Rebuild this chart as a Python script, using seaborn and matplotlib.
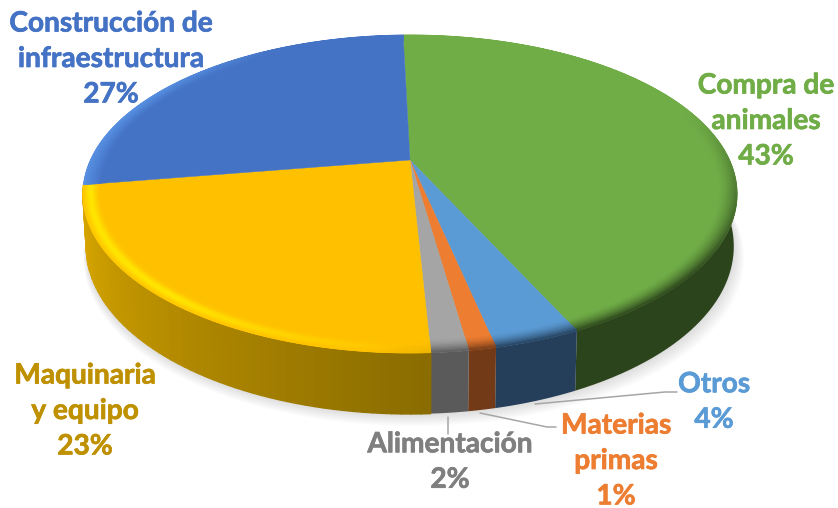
import numpy as np
import matplotlib
matplotlib.use("Agg")
import matplotlib.pyplot as plt
import matplotlib.patheffects as pe
from matplotlib.collections import PolyCollection
from matplotlib.colors import to_rgb
import seaborn as sns

# Values, the labels show them rounded
categories = ["Compra de\nanimales", "Otros", "Materias\nprimas", "Alimentación",
              "Maquinaria\ny equipo", "Construcción de\ninfraestructura"]
values = [43.5, 3.5, 1.1, 1.5, 23.3, 27.1]
pct_labels = ["43%", "4%", "1%", "2%", "23%", "27%"]
top_colors = ["#70AD47", "#5B9BD5", "#ED7D31", "#A5A5A5", "#FFC000", "#4472C4"]
text_colors = ["#70AD47", "#5B9BD5", "#ED7D31", "#7F7F7F", "#BF9000", "#4472C4"]
wall_left = ["#2C441C", "#253F5A", "#733A18", "#5A5A5A", "#E0AC00", "#2A4478"]
wall_right = ["#2C441C", "#253F5A", "#733A18", "#5A5A5A", "#8A6C00", "#2A4478"]

sns.set_theme(style="white")
plt.rcParams["font.family"] = ["Lato", "DejaVu Sans"]

fig = plt.figure(figsize=(8.38, 5.08), dpi=100)
ax = fig.add_axes([0, 0, 1, 1])

# pie gives the slice angles, they get tilted below
wedges, _ = ax.pie(values, startangle=91.5, counterclock=False)
angles = [(w.theta1, w.theta2) for w in wedges]
for w in wedges:
    w.remove()
ax.set_aspect("auto")
ax.set_xlim(0, 838)
ax.set_ylim(508, 0)
ax.axis("off")


def project(r, deg):
    # perspective view of the pie's flat top, pixel coords
    t = np.radians(deg)
    u, v = r * np.cos(t), r * np.sin(t)
    d = 1 + 0.2138 * v
    return 410 + 319.5 * u / d, (160 - 117.5 * v) / d


def project_low(deg):
    # same circle at the bottom of the wall
    x, y = project(1, deg)
    v = np.sin(np.radians(deg))
    return 410 + 0.99 * (x - 410), y + 50 - 11 * v


def ring(a1, a2, n=60):
    return np.linspace(a1, a2, n)


# soft shadow under the pie
th = ring(angles[4][0], 35, 200)
for k in range(12):
    xs, ys = project_low(th)
    xs = 410 + (xs - 410) * (1 + k * 0.0018) + k * 0.35
    ys = ys + k * 1.1
    ax.fill(xs, ys, color="#808080", alpha=0.022, lw=0, zorder=1)

# side wall, only yellow has a visible gradient
for i, (a1, a2) in enumerate(angles):
    if i == 5:  # blue slice is at the back
        continue
    lo, hi = a1, min(a2, 35)
    th = ring(lo, hi, 61)
    x0, y0 = project(1, th)
    x1, y1 = project_low(th)
    if wall_left[i] == wall_right[i]:
        ax.fill(np.r_[x0, x1[::-1]], np.r_[y0, y1[::-1]], color=wall_left[i], lw=0, zorder=2)
        continue
    grad = sns.blend_palette([wall_left[i], wall_right[i]], 60)
    quads = [[(x0[j], y0[j]), (x0[j + 1], y0[j + 1]), (x1[j + 1], y1[j + 1]), (x1[j], y1[j])]
             for j in range(60)]
    ax.add_collection(PolyCollection(quads, facecolors=grad, edgecolors="face", linewidths=1.0, zorder=2))

# flat top of each slice
for i, (a1, a2) in enumerate(angles):
    th = ring(a1, a2, 120)
    xs, ys = project(1, th)
    ax.fill(np.r_[410, xs], np.r_[160, ys], color=top_colors[i], lw=0.3, zorder=3)

# bevel at the rim: dark towards the wall, bright on the yellow slice
radii = np.linspace(0.945, 1.0, 12)
quads, cols = [], []
for i, (a1, a2) in enumerate(angles):
    base = np.array(to_rgb(top_colors[i]))
    dark = np.array(to_rgb(wall_right[i]))
    th = ring(a1, a2, max(int(a2 - a1) * 2, 8))
    for p in range(len(th) - 1):
        mid = (th[p] + th[p + 1]) / 2
        v = np.sin(np.radians(mid))
        c = np.cos(np.radians(mid))
        for q in range(len(radii) - 1):
            rm = (radii[q] + radii[q + 1]) / 2
            s = (rm - radii[0]) / (radii[-1] - radii[0])
            if i == 4:
                glow = np.exp(-((s - 0.6) / 0.3) ** 2) * np.clip(-c * 1.5 + 0.05, 0, 1)
                col = base + (np.array(to_rgb("#FFE600")) - base) * glow
                col = col + (dark - col) * np.clip(c + 0.1, 0, 0.8) * s ** 2
            elif i == 5:
                col = base + (np.array(to_rgb("#5A94E6")) - base) * s * 0.9 * np.clip(-c * 2.5 - 1.2, 0, 1)
            else:
                w = np.clip(-v + 0.35, 0, 1) * s ** 1.6 * 0.95
                col = base + (dark - base) * w
            x0, y0 = project(radii[q], np.array([th[p], th[p + 1]]))
            x1, y1 = project(radii[q + 1], np.array([th[p], th[p + 1]]))
            quads.append([(x0[0], y0[0]), (x0[1], y0[1]), (x1[1], y1[1]), (x1[0], y1[0])])
            cols.append(col)
ax.add_collection(PolyCollection(quads, facecolors=cols, edgecolors="face", linewidths=0.6, zorder=4))

# leader lines
ax.plot([535, 665, 677], [404, 392, 392], color="#A6A6A6", lw=1.1, zorder=5)
ax.plot([480, 547, 556], [413, 427, 427], color="#A6A6A6", lw=1.1, zorder=5)
ax.plot([448, 448], [417, 434], color="#A6A6A6", lw=1.1, zorder=5)

# labels
label_x = [766, 714, 616, 450, 85, 111]
label_y = [121, 402, 461, 462, 411, 59]
for i in range(len(categories)):
    t = ax.text(label_x[i], label_y[i], categories[i] + "\n" + pct_labels[i], color=text_colors[i],
                ha="center", va="center", fontsize=20.2, fontweight="bold", linespacing=1.45, zorder=6)
    t.set_path_effects([pe.withStroke(linewidth=0.5, foreground=text_colors[i])])

fig.savefig("out.png", dpi=100)
